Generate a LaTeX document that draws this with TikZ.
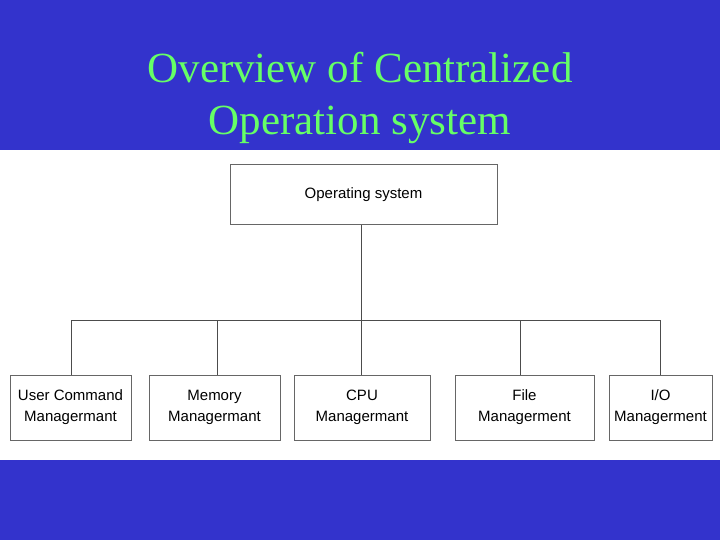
\documentclass[tikz,border=0pt]{standalone}
\usepackage{fontspec}
\setmainfont{Liberation Serif}
\newfontfamily\boxfont{Liberation Sans}
\usetikzlibrary{positioning}
\definecolor{slideblue}{RGB}{51,51,204}
\definecolor{titlegreen}{RGB}{102,255,102}
\tikzset{
  mgrbox/.style={draw=black!60,line width=1pt,fill=white,align=center,
    font=\boxfont\fontsize{15}{21}\selectfont,inner sep=0pt},
  tree/.style={line width=0.8pt,black!70}
}
\begin{document}
\begin{tikzpicture}[x=1pt,y=-1pt]
\useasboundingbox (0,0) rectangle (720,540);
\fill[slideblue] (0,0) rectangle (720,540);
\fill[white] (0,150) rectangle (720,460);
\node[text=titlegreen,font=\fontsize{43}{52}\selectfont,align=center] (title) at (360,98)
  {Overview of Centralized\\Operation system};

\node[mgrbox,minimum width=267,minimum height=60] (os) at (363.5,195) {Operating system};
\node[mgrbox,minimum width=121,minimum height=65] (ucm) at (70.5,407.5) {User Command\\Managermant};
\node[mgrbox,minimum width=131,minimum height=65] (mem) at (214.5,407.5) {Memory\\Managermant};
\node[mgrbox,minimum width=136,minimum height=65] (cpu) at (362,407.5) {CPU\\Managermant};
\node[mgrbox,minimum width=139,minimum height=65] (file) at (524.5,407.5) {File\\Managerment};
\node[mgrbox,minimum width=103,minimum height=65] (io) at (660.5,407.5) {I/O\\Managerment};

\coordinate (bus) at (361,320);
\draw[tree] (os.south -| bus) -- (bus);
\draw[tree] (71,320) -- (660,320);
\foreach \b/\x in {ucm/71,mem/217,cpu/361,file/520,io/660}
  \draw[tree] (\x,320) -- (\b.north -| {(\x,0)});
\end{tikzpicture}
\end{document}
